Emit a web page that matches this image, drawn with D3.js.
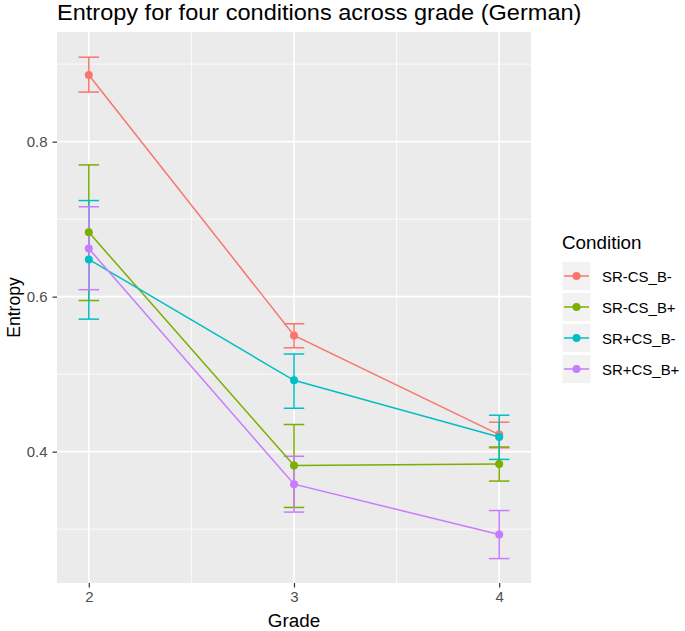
<!DOCTYPE html>
<html><head><meta charset="utf-8">
<script src="https://cdn.jsdelivr.net/npm/d3@7"></script>
<style>body{margin:0;background:#fff;} text{font-family:"Liberation Sans",Arial,sans-serif;}</style>
</head><body>
<svg id="chart" width="685" height="631"></svg>
<script>
const grades = [2, 3, 4];
const conditions = ["SR-CS_B-", "SR-CS_B+", "SR+CS_B-", "SR+CS_B+"];
const colors = ["#F8766D", "#7CAE00", "#00BFC4", "#C77CFF"];
const meanSRmCSBm = [0.886, 0.550, 0.422];
const lowSRmCSBm  = [0.864, 0.534, 0.405];
const highSRmCSBm = [0.909, 0.565, 0.438];
const meanSRmCSBp = [0.683, 0.382, 0.384];
const lowSRmCSBp  = [0.595, 0.328, 0.362];
const highSRmCSBp = [0.770, 0.435, 0.406];
const meanSRpCSBm = [0.648, 0.492, 0.419];
const lowSRpCSBm  = [0.571, 0.456, 0.390];
const highSRpCSBm = [0.724, 0.526, 0.447];
const meanSRpCSBp = [0.662, 0.358, 0.293];
const lowSRpCSBp  = [0.609, 0.322, 0.262];
const highSRpCSBp = [0.716, 0.394, 0.324];
const yTicks = [0.4, 0.6, 0.8];
const yMinor = [0.3, 0.5, 0.7, 0.9];
const xTicks = [2, 3, 4];

const means = [meanSRmCSBm, meanSRmCSBp, meanSRpCSBm, meanSRpCSBp];
const lows = [lowSRmCSBm, lowSRmCSBp, lowSRpCSBm, lowSRpCSBp];
const highs = [highSRmCSBm, highSRmCSBp, highSRpCSBm, highSRpCSBp];
const series = conditions.map((c, i) => ({
  name: c, color: colors[i],
  pts: grades.map((g, j) => ({g, m: means[i][j], lo: lows[i][j], hi: highs[i][j]}))
}));

const SX = 1.07; // horizontal text stretch seen in the reference
const svg = d3.select("#chart");
const P = {l: 57, r: 531, t: 32, b: 583};
const x = d3.scaleLinear().domain([1.845, 4.155]).range([P.l, P.r]);
const y = d3.scaleLinear().domain([0.2305, 0.9415]).range([P.b, P.t]);

function stext(parent, tx, ty, str, size, anchor, sx) {
  return parent.append("text").attr("transform", `translate(${tx},${ty}) scale(${sx || SX},1)`)
    .attr("text-anchor", anchor || "start").style("font-size", size + "px").attr("fill", "#000").text(str);
}

svg.append("rect").attr("x", P.l).attr("y", P.t).attr("width", P.r - P.l).attr("height", P.b - P.t).attr("fill", "#EBEBEB");
const g = svg.append("g");
g.selectAll(".ymin").data(yMinor).join("line").attr("x1", P.l).attr("x2", P.r)
  .attr("y1", d => y(d)).attr("y2", d => y(d)).attr("stroke", "#fff").attr("stroke-width", 0.8);
g.selectAll(".xmin").data([2.5, 3.5]).join("line").attr("y1", P.t).attr("y2", P.b)
  .attr("x1", d => x(d)).attr("x2", d => x(d)).attr("stroke", "#fff").attr("stroke-width", 0.8);
g.selectAll(".ymaj").data(yTicks).join("line").attr("x1", P.l).attr("x2", P.r)
  .attr("y1", d => y(d)).attr("y2", d => y(d)).attr("stroke", "#fff").attr("stroke-width", 1.6);
g.selectAll(".xmaj").data(xTicks).join("line").attr("y1", P.t).attr("y2", P.b)
  .attr("x1", d => x(d)).attr("x2", d => x(d)).attr("stroke", "#fff").attr("stroke-width", 1.6);

// axes
const yAxis = svg.append("g").attr("transform", `translate(${P.l},0)`)
  .call(d3.axisLeft(y).tickValues(yTicks).tickFormat(d3.format(".1f")).tickSize(4.5).tickPadding(5));
const xAxis = svg.append("g").attr("transform", `translate(0,${P.b})`)
  .call(d3.axisBottom(x).tickValues(xTicks).tickFormat(d3.format("d")).tickSize(4.5).tickPadding(5));
[yAxis, xAxis].forEach(a => {
  a.select(".domain").remove();
  a.selectAll(".tick line").attr("stroke", "#333").attr("stroke-width", 1.2);
  a.selectAll("text").attr("fill", "#4D4D4D").style("font-size", "14px")
    .style("font-family", '"Liberation Sans",Arial,sans-serif').attr("transform", `scale(${SX},1)`);
});
yAxis.selectAll("text").attr("x", -9.5 / SX);

// error bars
const hw = 0.05;
series.forEach(s => {
  const eg = svg.append("g").attr("stroke", s.color).attr("stroke-width", 1.5).attr("fill", "none");
  s.pts.forEach(p => {
    eg.append("line").attr("x1", x(p.g)).attr("x2", x(p.g)).attr("y1", y(p.lo)).attr("y2", y(p.hi));
    eg.append("line").attr("x1", x(p.g - hw)).attr("x2", x(p.g + hw)).attr("y1", y(p.lo)).attr("y2", y(p.lo));
    eg.append("line").attr("x1", x(p.g - hw)).attr("x2", x(p.g + hw)).attr("y1", y(p.hi)).attr("y2", y(p.hi));
  });
});
const line = d3.line().x(p => x(p.g)).y(p => y(p.m));
series.forEach(s => {
  svg.append("path").datum(s.pts).attr("d", line).attr("fill", "none").attr("stroke", s.color).attr("stroke-width", 1.5);
});
series.forEach(s => {
  svg.append("g").selectAll("circle").data(s.pts).join("circle")
    .attr("cx", p => x(p.g)).attr("cy", p => y(p.m)).attr("r", 4).attr("fill", s.color);
});

// titles
stext(svg, P.l, 19.8, "Entropy for four conditions across grade (German)", 21.5, "start", 1.095);
stext(svg, x(3), 627, "Grade", 17.6, "middle");
svg.append("text").attr("transform", `translate(20,${(P.t + P.b) / 2}) rotate(-90)`).attr("text-anchor", "middle")
  .text("Entropy").style("font-size", "17.6px").attr("fill", "#000");

// legend
const lg = svg.append("g").attr("transform", "translate(562,0)");
stext(lg, 0, 249, "Condition", 17.6);
series.forEach((s, i) => {
  const cy = 276 + i * 31;
  lg.append("rect").attr("x", 0).attr("y", cy - 14.5).attr("width", 29).attr("height", 29)
    .attr("fill", "#F2F2F2").attr("stroke", "#fff").attr("stroke-width", 1);
  lg.append("line").attr("x1", 2).attr("x2", 27).attr("y1", cy).attr("y2", cy).attr("stroke", s.color).attr("stroke-width", 1.5);
  lg.append("circle").attr("cx", 14.5).attr("cy", cy).attr("r", 4).attr("fill", s.color);
  stext(lg, 40, cy + 6, s.name, 14);
});
</script>
</body></html>
